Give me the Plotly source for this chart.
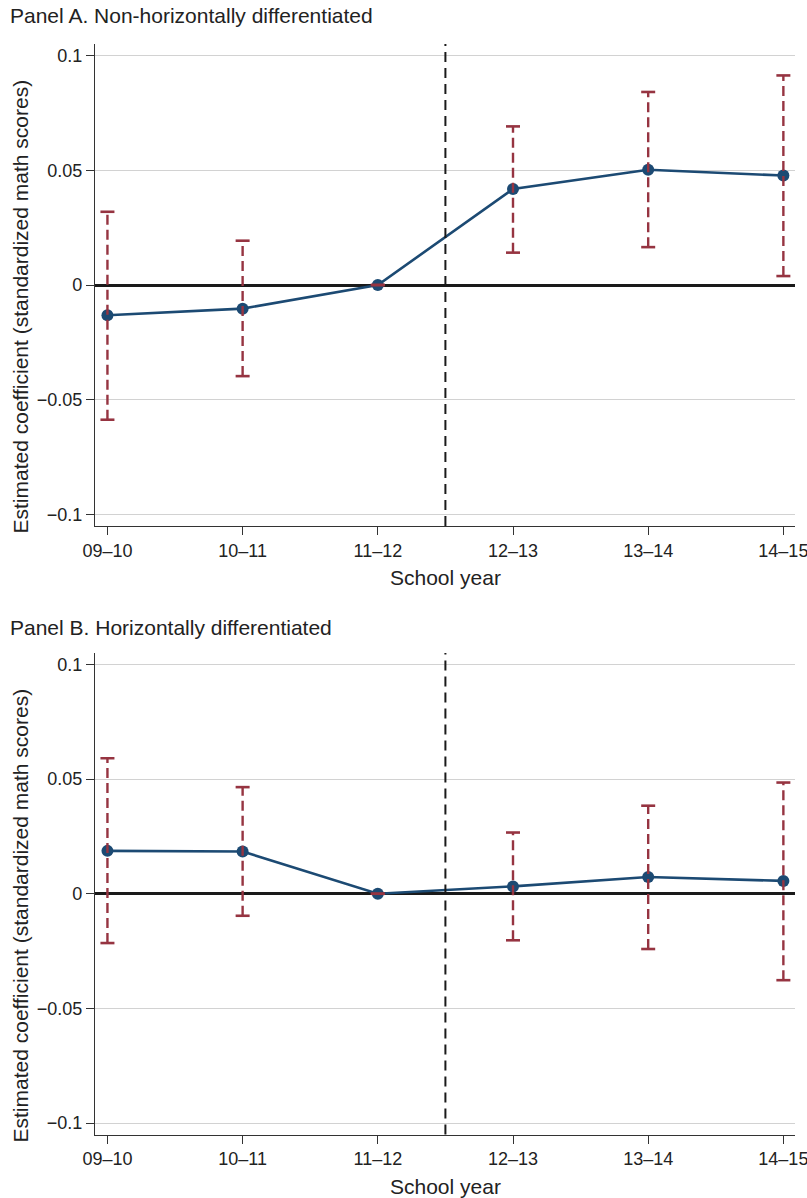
import plotly.graph_objects as go

W, H = 807, 1198

categories = ["09–10", "10–11", "11–12", "12–13", "13–14", "14–15"]

# Panel A. Non-horizontally differentiated
coef_a = [-0.0132, -0.0103, 0.0, 0.0418, 0.0502, 0.0477]
lo_a = [-0.0587, -0.0397, 0.0, 0.0141, 0.0165, 0.0039]
hi_a = [0.0319, 0.0193, 0.0, 0.0691, 0.0841, 0.0913]

# Panel B. Horizontally differentiated
coef_b = [0.0187, 0.0184, 0.0, 0.0032, 0.0073, 0.0056]
lo_b = [-0.0215, -0.0096, 0.0, -0.0203, -0.0241, -0.0377]
hi_b = [0.0591, 0.0465, 0.0, 0.0267, 0.0384, 0.0485]

ytick_vals = [-0.1, -0.05, 0, 0.05, 0.1]
ytick_text = ["−0.1", "−0.05", "0", "0.05", "0.1"]

panel_titles = ["Panel A. Non-horizontally differentiated",
                "Panel B. Horizontally differentiated"]
x_title = "School year"
y_title = "Estimated coefficient (standardized math scores)"

FONT = "Liberation Sans, Arial, Helvetica, sans-serif"
TXT = "#222222"
BLUE = "#1c4a73"
RED = "#963441"


def px_x(p):
    return p / W


def px_y(p):
    return 1 - p / H


xpos = list(range(len(categories)))

fig = go.Figure()

panels = [
    dict(coef=coef_a, lo=lo_a, hi=hi_a, top=44, bot=526, xa="x", ya="y"),
    dict(coef=coef_b, lo=lo_b, hi=hi_b, top=653, bot=1134.5, xa="x2", ya="y2"),
]

for i, p in enumerate(panels):
    # connecting line with markers
    fig.add_trace(go.Scatter(
        x=xpos, y=p["coef"], mode="lines+markers",
        line=dict(color=BLUE, width=2.6),
        marker=dict(color=BLUE, size=12),
        xaxis=p["xa"], yaxis=p["ya"], showlegend=False, hoverinfo="skip"))
    # dashed CI stems
    sx, sy = [], []
    for x, lo, hi in zip(xpos, p["lo"], p["hi"]):
        sx += [x, x, None]
        sy += [lo, hi, None]
    fig.add_trace(go.Scatter(
        x=sx, y=sy, mode="lines",
        line=dict(color=RED, width=2.4, dash="10px,5px"),
        xaxis=p["xa"], yaxis=p["ya"], showlegend=False, hoverinfo="skip"))
    # CI caps
    fig.add_trace(go.Scatter(
        x=xpos + xpos, y=p["lo"] + p["hi"], mode="markers",
        marker=dict(symbol="line-ew", size=10,
                    line=dict(color=RED, width=2.6)),
        xaxis=p["xa"], yaxis=p["ya"], showlegend=False, hoverinfo="skip"))

axis_common = dict(
    showline=True, linecolor="#333333", linewidth=1.4,
    ticks="outside", ticklen=8, tickwidth=1.2, tickcolor="#333333",
    tickfont=dict(family=FONT, size=18, color=TXT),
    mirror=False, automargin=False, ticklabeloverflow="allow",
)

layout = dict(
    template="none",
    width=W, height=H, autosize=False,
    margin=dict(l=0, r=0, t=0, b=0, pad=0, autoexpand=False),
    paper_bgcolor="white", plot_bgcolor="white",
    font=dict(family=FONT, color=TXT),
    showlegend=False,
)

for i, p in enumerate(panels):
    xs = "xaxis" if i == 0 else "xaxis2"
    ys = "yaxis" if i == 0 else "yaxis2"
    layout[xs] = dict(
        axis_common,
        domain=[px_x(95), px_x(795)],
        range=[-0.092, 5.086],
        tickmode="array", tickvals=xpos, ticktext=categories,
        showgrid=False, zeroline=False,
        anchor="y" if i == 0 else "y2",
    )
    layout[ys] = dict(
        axis_common,
        domain=[px_y(p["bot"]), px_y(p["top"])],
        range=[-0.105, 0.105],
        tickmode="array", tickvals=ytick_vals, ticktext=ytick_text,
        showgrid=True, gridcolor="#d2d2d2", gridwidth=1.2,
        zeroline=True, zerolinecolor="#1a1a1a", zerolinewidth=2.6,
        anchor="x" if i == 0 else "x2",
    )

fig.update_layout(**layout)

# vertical dashed reference line between 11-12 and 12-13
for i, p in enumerate(panels):
    fig.add_shape(type="line", xref=p["xa"], yref=p["ya"] + " domain",
                  x0=2.5, x1=2.5, y0=0, y1=1,
                  line=dict(color="#1a1a1a", width=2, dash="10px,6px"))

annotations = []
title_centers = [15.2, 627]
xtitle_centers = [577, 1186]
ytitle_centers = [306.5, 915.5]
for i in range(2):
    annotations.append(dict(
        text=panel_titles[i], x=px_x(8), y=px_y(title_centers[i]),
        xref="paper", yref="paper", xanchor="left", yanchor="middle",
        showarrow=False, font=dict(family=FONT, size=21, color=TXT)))
    annotations.append(dict(
        text=x_title, x=px_x(445), y=px_y(xtitle_centers[i]),
        xref="paper", yref="paper", xanchor="center", yanchor="middle",
        showarrow=False, font=dict(family=FONT, size=21, color=TXT)))
    annotations.append(dict(
        text=y_title, x=px_x(20), y=px_y(ytitle_centers[i]),
        xref="paper", yref="paper", xanchor="center", yanchor="middle",
        textangle=-90,
        showarrow=False, font=dict(family=FONT, size=21, color=TXT)))

fig.update_layout(annotations=annotations)

fig.write_html("out.html")
